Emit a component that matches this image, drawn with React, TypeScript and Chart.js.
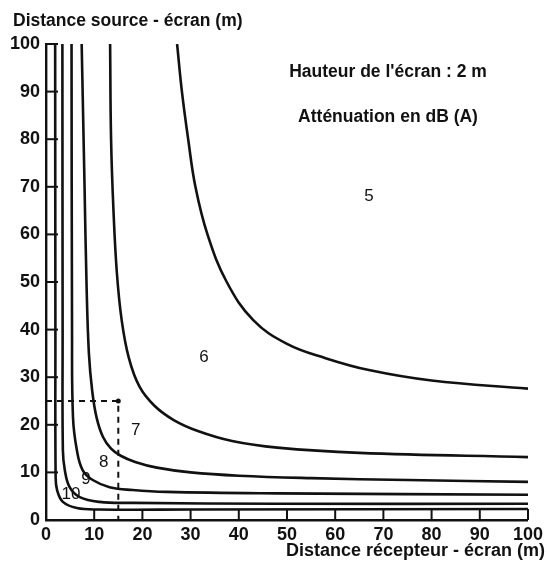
import React, { useEffect, useRef } from "react";
import { Chart, registerables } from "chart.js";

Chart.register(...registerables);

// Iso-attenuation curves, dB(A): x = distance récepteur-écran, y = distance source-écran
const curveLevels = ["5", "6", "7", "8", "9", "10"];

const curve5X = [27.2, 28.2, 29.5, 31, 33.5, 37.5, 43, 50, 58, 67, 80, 100];
const curve5Y = [100, 90, 80, 70, 60, 50, 42, 37, 34, 31.5, 29.3, 27.6];

const curve6X = [13.3, 13.5, 14.0, 14.7, 15.7, 17.2, 19.4, 22.5, 26.5, 31.5, 38.6, 48, 65, 100];
const curve6Y = [100, 80, 65, 52, 42, 34, 28, 24.0, 21.0, 18.7, 16.6, 15.2, 14.1, 13.2];

const curve7X = [7.4, 7.7, 8.0, 8.4, 8.9, 9.6, 10.5, 11.8, 13.5, 15.5, 18.5, 23, 30, 40, 55, 75, 100];
const curve7Y = [100, 85, 70, 50, 35, 27, 21.5, 17.5, 15.0, 13.5, 12.2, 11.0, 10.0, 9.3, 8.8, 8.4, 8.0];

const curve8X = [5.3, 5.4, 5.6, 6.4, 7.6, 9.7, 13.2, 18, 25, 48, 100];
const curve8Y = [100, 40, 21.6, 14.7, 10.5, 8.4, 6.9, 6.3, 5.9, 5.6, 5.3];

const curve9X = [3.4, 3.45, 3.5, 3.9, 4.9, 7.0, 11.1, 18, 48, 100];
const curve9Y = [100, 40, 14.7, 10.5, 6.9, 4.8, 3.8, 3.6, 3.4, 3.4];

const curve10X = [1.9, 1.95, 2.0, 2.3, 3.5, 6.4, 11, 30, 100];
const curve10Y = [100, 40, 9, 6.3, 3.8, 2.5, 2.2, 2.2, 2.3];

// Example reading (dashed): source at 25 m, receiver at 15 m
const exampleX = [0, 15, 15];
const exampleY = [25, 25, 0];

// Curve label anchors (data units)
const labelX = [67, 32.8, 18.6, 12, 8.3, 5.2];
const labelY = [67.9, 34.2, 18.9, 12.2, 8.6, 5.5];

const xTicks = [0, 10, 20, 30, 40, 50, 60, 70, 80, 90, 100];
const yTicks = [0, 10, 20, 30, 40, 50, 60, 70, 80, 90, 100];

const yTitle = "Distance source - écran (m)";
const xTitle = "Distance récepteur - écran (m)";
const note1 = "Hauteur de l'écran : 2 m";
const note2 = "Atténuation en dB (A)";

const FONT = '"Liberation Sans", Arial, Helvetica, sans-serif';
const INK = "#111";

const zip = (xs: number[], ys: number[]) => xs.map((x, i) => ({ x, y: ys[i] }));

const decorPlugin = {
  id: "decor",
  afterDraw(chart: any) {
    const { ctx, scales, chartArea } = chart;
    const xs = scales.x;
    const ys = scales.y;
    ctx.save();
    ctx.strokeStyle = INK;
    ctx.lineWidth = 2;
    // inward ticks
    xTicks.forEach((v) => {
      const p = xs.getPixelForValue(v);
      ctx.beginPath();
      ctx.moveTo(p, chartArea.bottom);
      ctx.lineTo(p, chartArea.bottom - 11);
      ctx.stroke();
    });
    yTicks.forEach((v) => {
      const p = ys.getPixelForValue(v);
      ctx.beginPath();
      ctx.moveTo(chartArea.left, p);
      ctx.lineTo(chartArea.left + 12, p);
      ctx.stroke();
    });
    ctx.fillStyle = INK;
    // titles
    ctx.textBaseline = "middle";
    ctx.textAlign = "left";
    ctx.font = `bold 17.5px ${FONT}`;
    ctx.fillText(yTitle, 13, 21);
    ctx.textAlign = "right";
    ctx.font = `bold 18px ${FONT}`;
    ctx.fillText(xTitle, 545, 551);
    ctx.textAlign = "center";
    ctx.font = `bold 17.5px ${FONT}`;
    ctx.fillText(note1, 388, 72);
    ctx.fillText(note2, 388, 117);
    // curve labels
    ctx.font = `17px ${FONT}`;
    curveLevels.forEach((t, i) => {
      ctx.fillText(t, xs.getPixelForValue(labelX[i]), ys.getPixelForValue(labelY[i]));
    });
    ctx.restore();
  },
};

export default function App() {
  const ref = useRef<HTMLCanvasElement | null>(null);

  useEffect(() => {
    if (!ref.current) return;
    const curves = [
      [curve5X, curve5Y],
      [curve6X, curve6Y],
      [curve7X, curve7Y],
      [curve8X, curve8Y],
      [curve9X, curve9Y],
      [curve10X, curve10Y],
    ];
    const datasets: any[] = curves.map(([xs, ys], i) => ({
      label: curveLevels[i] + " dB(A)",
      data: zip(xs, ys),
      borderColor: INK,
      borderWidth: 2.6,
      pointRadius: 0,
      tension: 0.4,
      fill: false,
    }));
    datasets.push({
      label: "exemple",
      data: zip(exampleX, exampleY),
      borderColor: INK,
      backgroundColor: INK,
      borderWidth: 2,
      borderDash: [6, 5],
      pointRadius: [0, 2.5, 0],
      pointBorderWidth: 0,
      tension: 0,
      fill: false,
    });

    const tickFont = { family: FONT, size: 18, weight: "bold" as const };
    const chart = new Chart(ref.current, {
      type: "line",
      data: { datasets },
      options: {
        animation: false,
        responsive: false,
        layout: { padding: { left: 6, right: 16, top: 44, bottom: 9 } },
        plugins: { legend: { display: false }, tooltip: { enabled: false } },
        scales: {
          x: {
            type: "linear",
            min: 0,
            max: 100,
            afterFit: (s: any) => {
              s.height = 40;
            },
            afterBuildTicks: (s: any) => {
              s.ticks = xTicks.map((v) => ({ value: v }));
            },
            ticks: { color: INK, font: tickFont, padding: 4, maxRotation: 0, autoSkip: false },
            grid: { display: false, drawTicks: false },
            border: { color: INK, width: 2.4 },
          },
          y: {
            type: "linear",
            min: 0,
            max: 100,
            afterFit: (s: any) => {
              s.width = 40;
            },
            afterBuildTicks: (s: any) => {
              s.ticks = yTicks.map((v) => ({ value: v }));
            },
            ticks: { color: INK, font: tickFont, padding: 6, autoSkip: false },
            grid: { display: false, drawTicks: false },
            border: { color: INK, width: 2.4 },
          },
        },
      },
      plugins: [decorPlugin],
    });
    return () => chart.destroy();
  }, []);

  return (
    <div style={{ position: "fixed", left: 0, top: 0, width: 547, height: 569, background: "#fff" }}>
      <canvas ref={ref} width={547} height={569} style={{ width: 547, height: 569 }} />
    </div>
  );
}
